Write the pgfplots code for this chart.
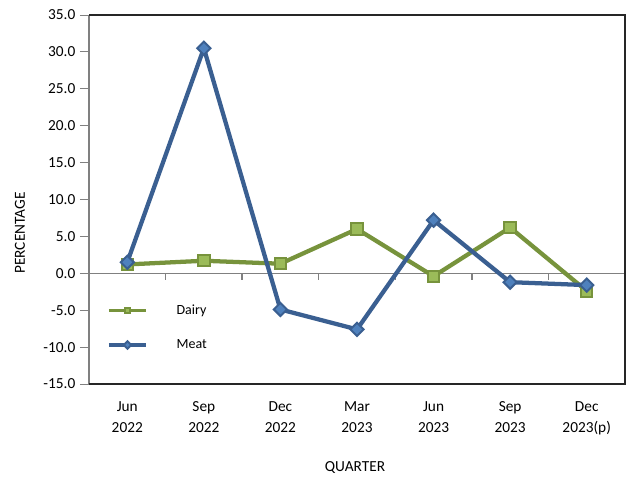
\documentclass[border=0pt]{standalone}
\usepackage{fontspec}
\setmainfont{Carlito}
\usepackage{pgfplots}
\pgfplotsset{compat=1.18}
\definecolor{dgreen}{RGB}{119,147,60}
\definecolor{lgreen}{RGB}{155,187,89}
\definecolor{dblue}{RGB}{58,95,145}
\definecolor{lblue}{RGB}{79,129,189}
\begin{document}
\begin{tikzpicture}[x=0.75pt,y=0.75pt]
\path (0,0) rectangle (636,480);
\begin{axis}[
  at={(66.75pt,72pt)}, anchor=south west,
  width=402pt, height=276.75pt, scale only axis,
  xmin=-0.5, xmax=6.5, ymin=-15, ymax=35,
  clip=false,
  axis line style={draw=none},
  xtick={0,...,6},
  xticklabels={Jun\\2022,Sep\\2022,Dec\\2022,Mar\\2023,Jun\\2023,Sep\\2023,Dec\\2023(p)},
  xticklabel style={align=center, font=\fontsize{11.5}{15.75}\selectfont, anchor=north, yshift=-3pt},
  xtick style={draw=none},
  xtick pos=bottom, ytick pos=left,
  ytick={-15,-10,...,35},
  yticklabel style={/pgf/number format/fixed, /pgf/number format/fixed zerofill, /pgf/number format/precision=1, font=\fontsize{11.5}{13}\selectfont},
  /pgf/number format/assume math mode=true,
  ytick style={gray, line width=0.75pt},
  tick align=outside,
  major tick length=6.75pt,
  legend style={draw=none, fill=none, at={(axis cs:-0.5,0)}, anchor=north west,
    xshift=13.5pt, yshift=-23.5pt, inner sep=0pt, nodes={inner sep=0pt},
    font=\fontsize{10.5}{12}\selectfont, row sep=17.25pt,
    /tikz/every odd column/.append style={column sep=21.75pt}},
  legend cell align=left,
  legend image code/.code={\draw[mark repeat=2,mark phase=2,#1,mark size=2pt,line width=2.5pt] plot coordinates {(0pt,0pt)(13.9pt,0pt)(27.75pt,0pt)};},
]
\addplot[gray, line width=1pt, forget plot, mark=none] coordinates {(-0.5,0) (6.5,0)};
\addplot[gray, line width=1pt, forget plot, mark=none] coordinates {(0.5,0) (0.5,-0.85)};
\addplot[gray, line width=1pt, forget plot, mark=none] coordinates {(1.5,0) (1.5,-0.85)};
\addplot[gray, line width=1pt, forget plot, mark=none] coordinates {(2.5,0) (2.5,-0.85)};
\addplot[gray, line width=1pt, forget plot, mark=none] coordinates {(3.5,0) (3.5,-0.85)};
\addplot[gray, line width=1pt, forget plot, mark=none] coordinates {(4.5,0) (4.5,-0.85)};
\addplot[gray, line width=1pt, forget plot, mark=none] coordinates {(5.5,0) (5.5,-0.85)};
\addplot[dgreen, line width=3.2pt, mark=square*, mark size=4.3pt,
  mark options={fill=lgreen, draw=dgreen, line width=1.5pt}]
  coordinates {(0,1.2) (1,1.7) (2,1.3) (3,6.0) (4,-0.4) (5,6.2) (6,-2.4)};
\addlegendentry{Dairy}
\addplot[dblue, line width=3.2pt, mark=square*, mark size=3.5pt,
  mark options={rotate=45, fill=lblue, draw=dblue, line width=1.5pt}]
  coordinates {(0,1.5) (1,30.5) (2,-4.9) (3,-7.6) (4,7.2) (5,-1.2) (6,-1.6)};
\addlegendentry{Meat}
\draw[gray, line width=1.1pt] (rel axis cs:0,0) -- (rel axis cs:0,1);
\draw[black!85, line width=1.5pt] (rel axis cs:0,1) -- (rel axis cs:1,1) -- (rel axis cs:1,0) -- (rel axis cs:0,0);
\end{axis}
\node[rotate=90, font=\fontsize{11.5}{13}\selectfont] at (20,247) {PERCENTAGE};
\node[font=\fontsize{11.5}{13}\selectfont] at (355,12) {QUARTER};
\end{tikzpicture}
\end{document}
